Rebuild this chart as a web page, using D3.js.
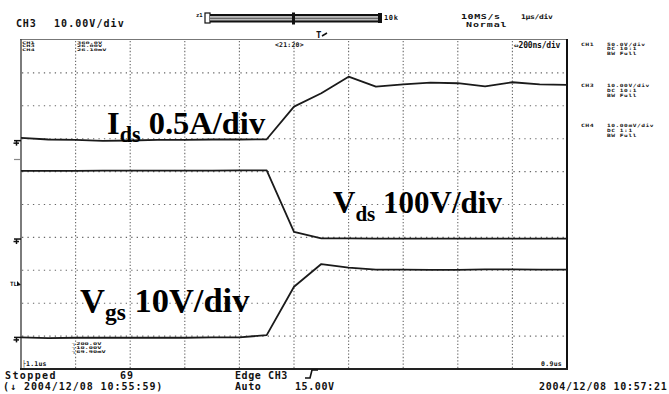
<!DOCTYPE html>
<html>
<head>
<meta charset="utf-8">
<script src="https://cdn.jsdelivr.net/npm/d3@7"></script>
<style>
  html, body { margin: 0; padding: 0; background: #fff; }
  svg { display: block; }
  .scope { font-family: "DejaVu Sans Mono", monospace; font-weight: bold; fill: #111; }
  .big { font-family: "Liberation Serif", "Times New Roman", serif; font-weight: bold; fill: #000; }
</style>
</head>
<body>
<svg id="chart" width="669" height="394"></svg>
<script>
// Sample times (µs), one sample every 100 ns at 10 MS/s
const timeUs = [-1.1, -1.0, -0.9, -0.8, -0.7, -0.6, -0.5, -0.4, -0.3, -0.2, -0.1,
                 0.0, 0.1, 0.2, 0.3, 0.4, 0.5, 0.6, 0.7, 0.8, 0.9];
// Drain current (A)
const idsAmps = [0.056, 0.033, 0.026, 0.011, 0.018, 0.026, 0.026, 0.033, 0.033, 0.036, 0.532,
                 0.736, 0.988, 0.836, 0.872, 0.897, 0.888, 0.839, 0.903, 0.872, 0.862];
// Drain-source voltage (V)
const vdsVolts = [210, 210, 210, 211, 211, 211, 211, 211, 212, 212, 25,
                  5, 5, 4.5, 4.5, 4.5, 4.5, 4.5, 4.5, 4.5, 4.5];
// Gate-source voltage (V)
const vgsVolts = [0.3, 0.1, 0.2, 0.2, 0.2, 0.2, 0.2, 0.3, 0.3, 1.0, 15.7,
                  22.6, 21.5, 20.9, 20.9, 20.8, 20.8, 21.0, 21.0, 20.9, 20.9];

// Screen grid: 10 x 10 divisions, 200 ns/div
const timeRange = [-1.1, 0.9];
const gridTimes = [-0.9, -0.7, -0.5, -0.3, -0.1, 0.1, 0.3, 0.5, 0.7];
const gridDivs = [-4, -3, -2, -1, 0, 1, 2, 3, 4];

// Channel settings: units per division and ground position in divisions
const channels = [
  { values: idsAmps,  perDiv: 0.5, ground: 1.91 },
  { values: vdsVolts, perDiv: 100, ground: -1.08 },
  { values: vgsVolts, perDiv: 10,  ground: -4.07 }
];

const svg = d3.select("#chart");
const L = 21, R = 567, T = 40, B = 369;

const x = d3.scaleLinear().domain(timeRange).range([L, R]);
const yDiv = d3.scaleLinear().domain([-5, 5]).range([B, T]);

svg.append("rect").attr("width", 669).attr("height", 394).attr("fill", "#fff");

// ---- dotted graticule ----
const grid = svg.append("g");
grid.selectAll("line.h").data(gridDivs).join("line")
  .attr("x1", L + 1).attr("x2", R)
  .attr("y1", d => yDiv(d)).attr("y2", d => yDiv(d))
  .attr("stroke", "#666").attr("stroke-width", 1.1)
  .attr("stroke-dasharray", "1.3 4.16");
grid.selectAll("line.v").data(gridTimes).join("line")
  .attr("x1", d => x(d)).attr("x2", d => x(d))
  .attr("y1", T + 1).attr("y2", B)
  .attr("stroke", "#666").attr("stroke-width", 1.1)
  .attr("stroke-dasharray", "1.3 1.99");

// ---- frame ----
svg.append("line").attr("x1", 20).attr("x2", 568).attr("y1", 39.5).attr("y2", 39.5)
  .attr("stroke", "#777").attr("stroke-width", 1.2);
svg.append("line").attr("x1", 21).attr("x2", 21).attr("y1", 39).attr("y2", 370)
  .attr("stroke", "#444").attr("stroke-width", 1.4);
svg.append("line").attr("x1", 567).attr("x2", 567).attr("y1", 39).attr("y2", 370)
  .attr("stroke", "#111").attr("stroke-width", 2);
svg.append("line").attr("x1", 20).attr("x2", 568).attr("y1", 369).attr("y2", 369)
  .attr("stroke", "#222").attr("stroke-width", 2);

// ---- traces ----
channels.forEach(ch => {
  const line = d3.line()
    .x((d, i) => x(timeUs[i]))
    .y(d => yDiv(ch.ground + d / ch.perDiv));
  svg.append("path").datum(ch.values)
    .attr("d", line)
    .attr("fill", "none")
    .attr("stroke", "#1a1a1a")
    .attr("stroke-width", 1.8)
    .attr("stroke-linejoin", "round");
});

// ---- ground markers on the left edge ----
channels.forEach(ch => {
  const gy = yDiv(ch.ground);
  const g = svg.append("g").attr("stroke", "#111").attr("stroke-width", 1.5).attr("fill", "none");
  g.append("line").attr("x1", 14).attr("x2", 21).attr("y1", gy - 1).attr("y2", gy - 1);
  g.append("line").attr("x1", 16.5).attr("x2", 16.5).attr("y1", gy - 1).attr("y2", gy + 4);
  g.append("line").attr("x1", 13.5).attr("x2", 19).attr("y1", gy + 1.5).attr("y2", gy + 1.5);
});
svg.append("line").attr("x1", 14).attr("x2", 20).attr("y1", 159.5).attr("y2", 159.5)
  .attr("stroke", "#888").attr("stroke-width", 1.2);
// trigger level marker
svg.append("text").attr("class", "scope").attr("x", 10).attr("y", 286)
  .attr("font-size", 6).text("TL");
svg.append("path").attr("d", "M17,281 L21,285 L17,286 Z").attr("fill", "#111");

// ---- text helpers ----
const txt = (xx, yy, s, size, ls, anchor) => svg.append("text").attr("class", "scope")
  .attr("x", xx).attr("y", yy).attr("font-size", size)
  .attr("letter-spacing", ls || 0).attr("text-anchor", anchor || "start").text(s);

// vertically compressed lines, like the scope's small readout font
const squash = (xx, yy, lines, size, sy, step, ls) => {
  const g = svg.append("g").attr("transform", `translate(${xx},${yy}) scale(1,${sy})`);
  lines.forEach((s, i) => g.append("text").attr("class", "scope")
    .attr("x", 0).attr("y", i * step / sy).attr("font-size", size)
    .attr("letter-spacing", ls || 0).text(s));
};

// ---- header ----
txt(16, 27, "CH3", 10, 0.8);
txt(54, 27, "10.00V/div", 10, 1.05);
squash(461, 18.5, ["10MS/s"], 10, 0.75, 0, 0.6);
squash(466, 27, ["Normal"], 10, 0.75, 0, 0.9);
squash(521, 18.5, ["1µs/div"], 8, 0.8, 0, -0.3);

// zoom bar
txt(196, 17, "z1", 5.5, 0);
const bar = svg.append("g");
bar.append("rect").attr("x", 205).attr("y", 13).attr("width", 5).attr("height", 10).attr("fill", "none").attr("stroke", "#111").attr("stroke-width", 1.2);
bar.append("rect").attr("x", 210).attr("y", 14).attr("width", 168).attr("height", 8).attr("fill", "#bbb");
bar.append("line").attr("x1", 210).attr("x2", 378).attr("y1", 15).attr("y2", 15).attr("stroke", "#111").attr("stroke-width", 2);
bar.append("line").attr("x1", 210).attr("x2", 378).attr("y1", 21.5).attr("y2", 21.5).attr("stroke", "#111").attr("stroke-width", 2);
bar.append("line").attr("x1", 210).attr("x2", 378).attr("y1", 18.3).attr("y2", 18.3).attr("stroke", "#555").attr("stroke-width", 1);
bar.append("rect").attr("x", 378).attr("y", 13).attr("width", 4).attr("height", 10).attr("fill", "#111");
bar.append("rect").attr("x", 292).attr("y", 12.5).attr("width", 3).attr("height", 12).attr("fill", "#111");
txt(384, 20, "10k", 7, 0.6);

// trigger position marker
svg.append("text").attr("class", "scope").attr("x", 316).attr("y", 38)
  .attr("font-size", 9).text("T");
svg.append("path").attr("d", "M322,36 L327,33").attr("stroke", "#111").attr("stroke-width", 1.5);

// ---- in-screen readouts ----
squash(22, 43.5, ["CH1", "CH3", "CH4"], 7, 0.5, 3.6);
squash(77, 43.5, ["360.0V", "26.00V", "26.10mV"], 7, 0.5, 3.6);
squash(72, 345, ["\u2510200.0V", "\u251010.00V", "\u251069.90mV"], 7, 0.55, 4);
txt(275, 47, "<21:20>", 6.5, 0.2);
txt(514, 48, "\u21d4200ns/div", 8, -0.2);
txt(22, 366, "\u251c1.1us", 6.5, 0.2);
txt(541, 366, "0.9us", 6.5, 0.3);

// ---- channel settings panel ----
const panel = [
  { y: 45.5, ch: "CH1", lines: ["50.0V/div", "DC   10:1", "BW Full"] },
  { y: 87,   ch: "CH3", lines: ["10.00V/div", "DC   10:1", "BW Full"] },
  { y: 127,  ch: "CH4", lines: ["10.00mV/div", "DC    1:1", "BW Full"] }
];
panel.forEach(p => {
  squash(581, p.y, [p.ch], 6.5, 0.7, 5, 0.4);
  squash(607, p.y, p.lines, 6.2, 0.7, 5, 0.55);
});

// ---- status line ----
txt(5, 379, "Stopped", 10, 1.4);
txt(120, 379, "69", 10, 1);
txt(3, 390, "(\u2193 2004/12/08 10:55:59)", 10, 0.95);
txt(235, 379, "Edge CH3", 10, 0.6);
svg.append("path").attr("d", "M305,378 L310,378 L312,370 L318,370").attr("fill", "none").attr("stroke", "#111").attr("stroke-width", 1.6);
txt(235, 390, "Auto", 10, 0.6);
txt(295, 390, "15.00V", 10, 0.6);
txt(539, 390, "2004/12/08 10:57:21", 10, 0.75);

// ---- annotations ----
const label = (xx, yy, main, sub, rest, size) => {
  const t = svg.append("text").attr("class", "big").attr("x", xx).attr("y", yy).attr("font-size", size);
  t.append("tspan").text(main);
  t.append("tspan").attr("dy", 8).attr("font-size", size * 0.68).text(sub);
  t.append("tspan").attr("dy", -8).text("\u00a0" + rest);
};
label(107, 134, "I", "ds", "0.5A/div", 32.5);
label(333, 213, "V", "ds", "100V/div", 31);
label(80, 312, "V", "gs", "10V/div", 34.5);
</script>
</body>
</html>
